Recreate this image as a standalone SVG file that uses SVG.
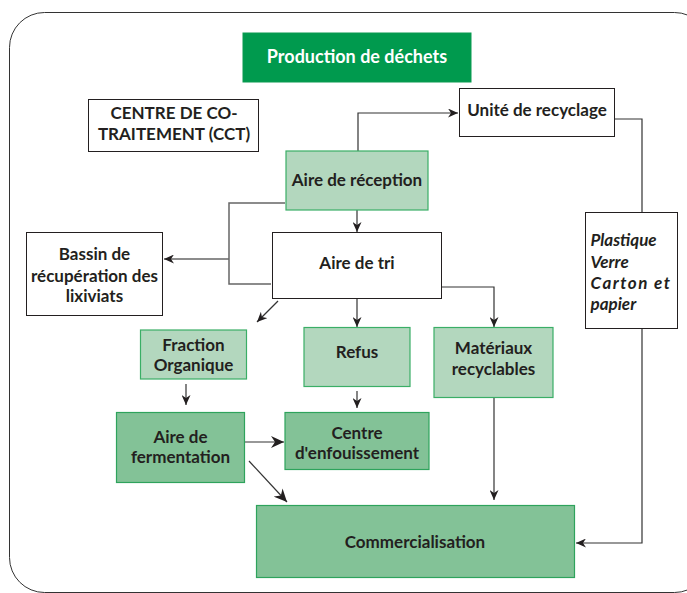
<svg xmlns="http://www.w3.org/2000/svg" width="687" height="593" viewBox="0 0 687 593">
<defs>
<style>
text{font-family:Lato,"Open Sans","Liberation Sans",sans-serif;font-weight:bold;font-size:17px;fill:#231f20;text-anchor:middle}
.w{fill:#fff;stroke:#231f20;stroke-width:1}
.lg{fill:#b3d7be;stroke:#3aae66;stroke-width:1.2}
.dg{fill:#83c297;stroke:#2ea35c;stroke-width:1.2}
.c{fill:none;stroke:#333;stroke-width:1.2}
.g{fill:none;stroke:#666;stroke-width:1.5}
.i{text-anchor:start;font-style:italic}
</style>
<marker id="a" markerUnits="userSpaceOnUse" markerWidth="11" markerHeight="9" refX="10" refY="4.5" orient="auto"><path d="M0,0 L10,4.5 L0,9 L3,4.5 z" fill="#231f20"/></marker>
<marker id="b" markerUnits="userSpaceOnUse" markerWidth="14" markerHeight="12" refX="13" refY="6" orient="auto"><path d="M0,0 L13,6 L0,12 L4,6 z" fill="#231f20"/></marker>
</defs>
<rect x="9.5" y="12.5" width="700" height="580" rx="35" ry="35" fill="none" stroke="#333" stroke-width="1"/>
<g id="connectors">
<path class="c" d="M358,151 V113 H458" marker-end="url(#a)"/>
<path class="c" d="M614,119 H642 V212"/>
<path class="c" d="M642,328 V543 H576" marker-end="url(#a)"/>
<path class="g" d="M285,203 H229 V284 H271"/>
<path class="g" d="M229,259 H164" marker-end="url(#a)"/>
<path class="c" d="M357,210 V232" marker-end="url(#a)"/>
<path class="c" d="M357,299 V327" marker-end="url(#a)"/>
<path class="c" d="M278,301 L257,322" marker-end="url(#a)"/>
<path class="c" d="M442,287 H494 V327" marker-end="url(#a)"/>
<path class="c" d="M186,384 V405" marker-end="url(#a)"/>
<path class="c" d="M357,391 V408" marker-end="url(#a)"/>
<path class="c" d="M245,442 H284" marker-end="url(#b)"/>
<path class="c" d="M249,461 L287,502" marker-end="url(#b)"/>
<path class="c" d="M494,398 V500" marker-end="url(#a)"/>
</g>
<g id="production"><rect x="243" y="33" width="228" height="49" fill="#009a4e" stroke="#0b9a50"/><text x="357" y="63" style="fill:#fff;font-size:18px">Production de déchets</text></g>
<g id="cct"><rect class="w" x="88.5" y="99.5" width="170" height="52"/><text x="174" y="119">CENTRE DE CO-</text><text x="174" y="140">TRAITEMENT (CCT)</text></g>
<g id="recyclage"><rect class="w" x="459.5" y="88.5" width="155" height="48"/><text x="537" y="116">Unité de recyclage</text></g>
<g id="reception"><rect class="lg" x="286" y="151" width="142" height="59"/><text x="357" y="186">Aire de réception</text></g>
<g id="bassin"><rect class="w" x="26.5" y="232.5" width="136" height="83"/><text x="94.5" y="260">Bassin de</text><text x="94.5" y="282">récupération des</text><text x="94.5" y="302">lixiviats</text></g>
<g id="tri"><rect class="w" x="272.5" y="232.5" width="169" height="66"/><text x="357" y="269">Aire de tri</text></g>
<g id="plastique"><rect class="w" x="585.5" y="212.5" width="92" height="116"/>
<text class="i" x="590.5" y="246">Plastique</text>
<text class="i" x="590.5" y="268">Verre</text>
<text class="i" x="590.5" y="289" style="letter-spacing:1.5px">Carton et</text>
<text class="i" x="590.5" y="310">papier</text></g>
<g id="fraction"><rect class="lg" x="140.5" y="330" width="106" height="49"/><text x="193.5" y="351">Fraction</text><text x="193.5" y="371">Organique</text></g>
<g id="refus"><rect class="lg" x="304" y="327.5" width="106" height="59"/><text x="357" y="358">Refus</text></g>
<g id="materiaux"><rect class="lg" x="434" y="327.5" width="119" height="70"/><text x="493.5" y="354">Matériaux</text><text x="493.5" y="375">recyclables</text></g>
<g id="fermentation"><rect class="dg" x="116.5" y="412.5" width="128" height="70"/><text x="180.5" y="443">Aire de</text><text x="180.5" y="463">fermentation</text></g>
<g id="enfouissement"><rect class="dg" x="285" y="412.5" width="144" height="57"/><text x="357" y="439">Centre</text><text x="357" y="459">d'enfouissement</text></g>
<g id="commercialisation"><rect class="dg" x="256.5" y="505.5" width="318" height="72"/><text x="415" y="548">Commercialisation</text></g>
</svg>
